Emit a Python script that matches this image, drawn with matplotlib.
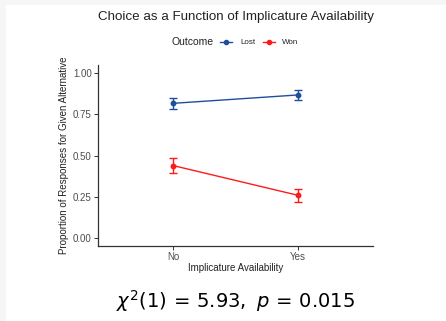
import numpy as np
import matplotlib
matplotlib.use('Agg')
import matplotlib.pyplot as plt
from matplotlib.patches import Rectangle
from matplotlib.lines import Line2D

plt.rcParams['font.family'] = ['Liberation Sans', 'DejaVu Sans']
plt.rcParams['mathtext.fontset'] = 'dejavusans'

# data
categories = ['No', 'Yes']
lost_mean = [0.817, 0.868]
lost_err = [0.032, 0.029]
won_mean = [0.439, 0.258]
won_err = [0.045, 0.041]
y_ticks = [0.0, 0.25, 0.5, 0.75, 1.0]
y_ticklabels = ['0.00', '0.25', '0.50', '0.75', '1.00']

LOST_COLOUR = '#1f4f9c'
WON_COLOUR = '#ff1a1a'
TEXT_GREY = '#4d4d4d'

W, H = 446, 321
fig = plt.figure(figsize=(W / 100, H / 100), dpi=100)
fig.patch.set_facecolor('#f6f6f6')
fig.patches.append(Rectangle((6 / W, 0), 1, 1 - 5 / H, transform=fig.transFigure,
                             facecolor='white', edgecolor='none', zorder=-5))

ax = fig.add_axes([98 / W, 1 - 246 / H, 275 / W, 181 / H])
ax.set_facecolor('none')
ax.set_zorder(2)
x = np.arange(1, len(categories) + 1)

for mean, err, col in [(lost_mean, lost_err, LOST_COLOUR), (won_mean, won_err, WON_COLOUR)]:
    ax.errorbar(x, mean, yerr=err, color=col, lw=1.0, marker='o', ms=3.2,
                capsize=2.6, capthick=1.0, elinewidth=1.0)

ax.set_xlim(0.4, 2.6)
ax.set_ylim(-0.05, 1.05)
ax.set_xticks(x)
ax.set_xticklabels(categories)
ax.set_yticks(y_ticks)
ax.set_yticklabels(y_ticklabels)
ax.tick_params(labelsize=7, colors='#333333', labelcolor=TEXT_GREY, length=3, width=0.7, pad=1.5)
for side in ['top', 'right']:
    ax.spines[side].set_visible(False)
for side in ['left', 'bottom']:
    ax.spines[side].set_color('#333333')
    ax.spines[side].set_linewidth(0.9)

ax.set_xlabel('Implicature Availability', fontsize=7, color='#222222', labelpad=0.3)
ax.set_ylabel('Proportion of Responses for Given Alternative', fontsize=7, color='#222222', labelpad=3)

fig.text(236 / W, 1 - 17 / H, 'Choice as a Function of Implicature Availability',
         ha='center', va='center', fontsize=9.6, color='#222222')

# legend drawn by hand across the top
fig.text(171 / W, 1 - 42 / H, 'Outcome', ha='left', va='center', fontsize=7.5, color='#222222')
for lx, tx, lab, col in [(220, 240, 'Lost', LOST_COLOUR), (263, 282, 'Won', WON_COLOUR)]:
    fig.lines.append(Line2D([lx / W, (lx + 12) / W], [1 - 42 / H, 1 - 42 / H], color=col, lw=1.0,
                            transform=fig.transFigure))
    fig.lines.append(Line2D([(lx + 6) / W], [1 - 42 / H], color=col, marker='o', ms=3,
                            transform=fig.transFigure))
    fig.text(tx / W, 1 - 42 / H, lab, ha='left', va='center', fontsize=5.8, color='#222222')

fig.text(236 / W, 1 - 301 / H, r'$\chi^2(1)\, =\, 5.93,\ p\, =\, 0.015$', ha='center', va='center',
         fontsize=14, color='black')

fig.savefig('out.png', dpi=100, facecolor=fig.get_facecolor())
